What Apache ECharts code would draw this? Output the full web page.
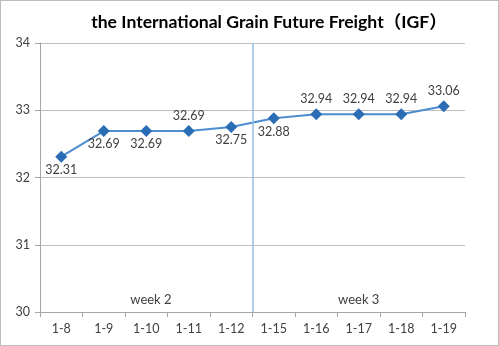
<!DOCTYPE html>
<html>
<head>
<meta charset="utf-8">
<script src="https://cdn.jsdelivr.net/npm/echarts@6/dist/echarts.min.js"></script>
<style>
  html, body { margin: 0; padding: 0; background: #fff; }
  #chart { width: 497px; height: 344px; border: 1px solid #bcbcbc; }
</style>
</head>
<body>
<div id="chart"></div>
<script>
// Daily IGF index values, two trading weeks
const dates = ['1-8', '1-9', '1-10', '1-11', '1-12', '1-15', '1-16', '1-17', '1-18', '1-19'];
const igf = [32.31, 32.69, 32.69, 32.69, 32.75, 32.88, 32.94, 32.94, 32.94, 33.06];
const labelSide = ['bottom', 'bottom', 'bottom', 'top', 'bottom', 'bottom', 'top', 'top', 'top', 'top'];
const yTicks = [30, 31, 32, 33, 34];
const weekNames = ['week 2', 'week 3'];
const weekSplit = 5; // boundary between the two weeks, in category slots

const font = 'Lato, "Noto Sans", "Noto Sans CJK SC", sans-serif';
const textColor = '#404040';

const chart = echarts.init(document.getElementById('chart'));

chart.setOption({
  animation: false,
  title: {
    text: 'the International Grain Future Freight（IGF）',
    left: 263,
    top: 8,
    textAlign: 'center',
    textStyle: { fontFamily: font, fontSize: 17.6, fontWeight: 'bold', color: '#000' }
  },
  grid: { left: 39, right: 33, top: 42, bottom: 33 },
  xAxis: [{
    type: 'category',
    data: dates,
    boundaryGap: true,
    axisLine: { lineStyle: { color: '#a6a6a6' } },
    axisTick: { show: true, length: 5, lineStyle: { color: '#a6a6a6' } },
    axisLabel: { fontFamily: font, fontSize: 12.5, color: textColor, margin: 11 }
  }, {
    type: 'value',
    min: 0,
    max: dates.length,
    show: false
  }],
  yAxis: {
    type: 'value',
    min: yTicks[0],
    max: yTicks[yTicks.length - 1],
    interval: 1,
    axisLine: { show: true, lineStyle: { color: '#a6a6a6' } },
    axisTick: { show: true, length: 5, lineStyle: { color: '#a6a6a6' } },
    axisLabel: { fontFamily: font, fontSize: 12.5, color: textColor, margin: 10 },
    splitLine: { lineStyle: { color: '#bfbfbf' } }
  },
  series: [{
    type: 'line',
    data: igf.map((v, i) => ({
      value: v,
      label: { position: labelSide[i], distance: labelSide[i] === 'top' ? 3 : 1 }
    })),
    symbol: 'diamond',
    symbolSize: 12,
    itemStyle: { color: '#2a6db5' },
    lineStyle: { color: '#4d8dcf', width: 2 },
    label: {
      show: true,
      formatter: p => p.value.toFixed(2),
      fontFamily: font,
      fontSize: 12.5,
      color: textColor
    },
    z: 3
  }, {
    type: 'line',
    xAxisIndex: 1,
    data: [],
    markLine: {
      silent: true,
      symbol: 'none',
      label: { show: false },
      lineStyle: { color: '#95bbe2', width: 1.5, type: 'solid' },
      data: [{ xAxis: weekSplit }]
    },
    markArea: {
      silent: true,
      itemStyle: { color: 'transparent' },
      label: {
        position: 'insideBottom',
        distance: 6,
        fontFamily: font,
        fontSize: 13,
        color: textColor
      },
      data: [
        [{ xAxis: 0.22, yAxis: 30, name: weekNames[0] }, { xAxis: weekSplit, yAxis: 31 }],
        [{ xAxis: weekSplit, yAxis: 30, name: weekNames[1] }, { xAxis: dates.length, yAxis: 31 }]
      ]
    }
  }]
});
</script>
</body>
</html>
